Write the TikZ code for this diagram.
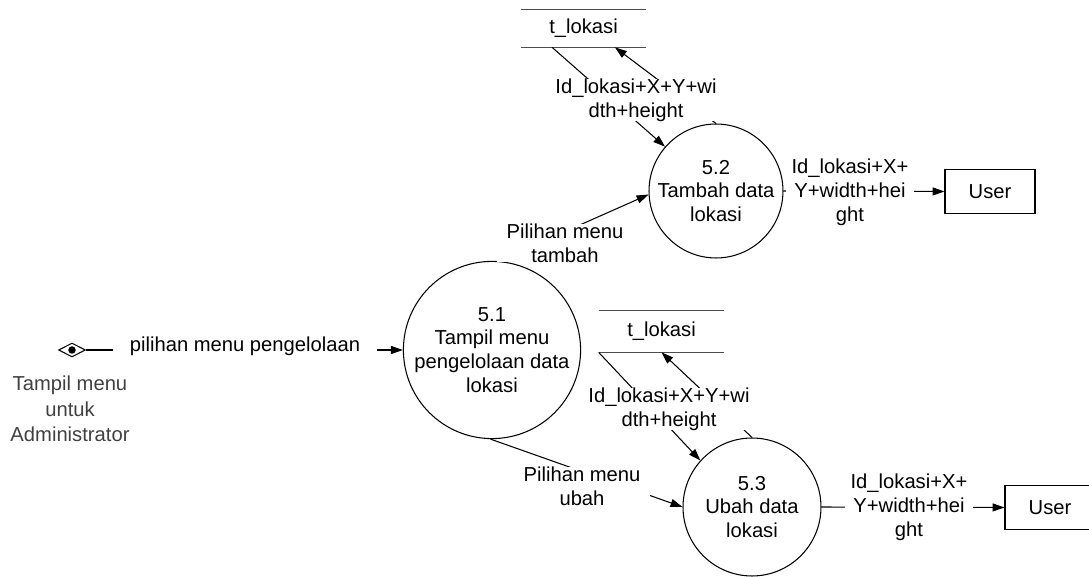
\documentclass[tikz,border=0pt]{standalone}
\usepackage{fontspec}
\setmainfont{Liberation Sans}
\usetikzlibrary{shapes.geometric}
\usetikzlibrary{arrows.meta}
\usetikzlibrary{calc}
\newcommand{\dfdfont}{\fontsize{11.5}{13.6}\selectfont}
\newcommand{\entfont}{\fontsize{11.5}{14.6}\selectfont}

\begin{document}
\begin{tikzpicture}[x=0.02cm, y=-0.02cm]
        % ================= 样式定义 =================
        \tikzset{
            % 处理过程:白底黑边圆圈
            proc/.style={circle, draw=black, line width=0.6pt, fill=white, inner sep=0pt, align=center, font=\dfdfont},
            % 外部实体:矩形框
            ext/.style={rectangle, draw=black, line width=0.6pt, fill=white, minimum width=1.8cm, minimum height=0.88cm, font=\dfdfont},
            % 数据存储:只有上下两条线
            store/.style={minimum width=2.5cm, inner sep=0pt, font=\dfdfont},
            storeline/.style={line width=0.6pt, black!70},
            % 入口标记:菱形加黑点
            gate/.style={diamond, draw=black, line width=0.6pt, minimum width=0.54cm, minimum height=0.28cm, inner sep=0pt},
            gatedot/.style={circle, fill=black, minimum size=0.15cm, inner sep=0pt},
            % 数据流:细黑线加实心箭头
            flow/.style={line width=0.6pt, black, -{Triangle[length=6.8pt, width=4.6pt]}},
            % 数据流标注:白底遮住连线
            flowlabel/.style={fill=white, align=center, inner xsep=0.2cm, inner ysep=0pt, font=\dfdfont},
            entlabel/.style={align=center, inner sep=0pt, text=black!75, font=\entfont}
        }
        \clip (0,0) rectangle (1089,577);

        % ================= 节点 =================
        \node[gate] (e1) at (72,350) {};
        \node[gatedot] (e1dot) at (e1) {};
        \node[entlabel] (l_e1) at (70,409) {Tampil menu\\untuk\\Administrator};

        \node[proc, minimum size=3.4cm] (p1) at (492,350) {5.1\\Tampil menu\\pengelolaan data\\lokasi};
        \node[proc, minimum size=2.68cm] (p2) at (716,191) {5.2\\Tambah data\\lokasi};
        \node[proc, minimum size=2.76cm] (p3) at (752,507) {5.3\\Ubah data\\lokasi};

        \node[store, minimum height=0.74cm] (s1) at (583.5,28.5) {t\_lokasi};
        \node[store, minimum height=0.82cm] (s2) at (661.5,331.5) {t\_lokasi};
        \draw[storeline] (s1.north west) -- (s1.north east);
        \draw[storeline] (s1.south west) -- (s1.south east);
        \draw[storeline] (s2.north west) -- (s2.north east);
        \draw[storeline] (s2.south west) -- (s2.south east);

        \node[ext] (u1) at (990,191.5) {User};
        \node[ext] (u2) at (1050,507.5) {User};

        % ================= 数据流 =================
        \draw[flow] (e1.east) -- (p1.west);
        \draw[flow] (p1.86) -- (p2.183);
        \draw[flow] (p1.269) -- (p3.west);

        % 读写 t_lokasi
        \draw[flow] ($(s1.south west)!0.25!(s1.south east)$) -- (p2.139);
        \draw[flow] (p2.north) -- ($(s1.south west)!0.75!(s1.south east)$);
        \draw[flow] (s2.south west) -- (p3.138);
        \draw[flow] (p3.north) -- (s2.south);

        % 输出到 User
        \draw[flow] (p2.east) -- (u1.west);
        \draw[flow] (p3.east) -- (u2.west);

        % ================= 标注 =================
        \node[flowlabel, inner xsep=0.33cm] (l_in) at (245,346) {pilihan menu pengelolaan};
        \node[flowlabel] (l_tambah) at (565,243) {Pilihan menu\\tambah};
        \node[flowlabel] (l_ubah) at (582,486) {Pilihan menu\\ubah};
        \node[flowlabel] (l_s1) at (636,100) {Id\_lokasi+X+Y+wi\\dth+height};
        \node[flowlabel] (l_s2) at (669,409) {Id\_lokasi+X+Y+wi\\dth+height};
        \node[flowlabel, inner xsep=0.12cm] (l_o1) at (850,192) {Id\_lokasi+X+\\Y+width+hei\\ght};
        \node[flowlabel, inner xsep=0.12cm] (l_o2) at (909,507) {Id\_lokasi+X+\\Y+width+hei\\ght};

    \end{tikzpicture}
\end{document}
